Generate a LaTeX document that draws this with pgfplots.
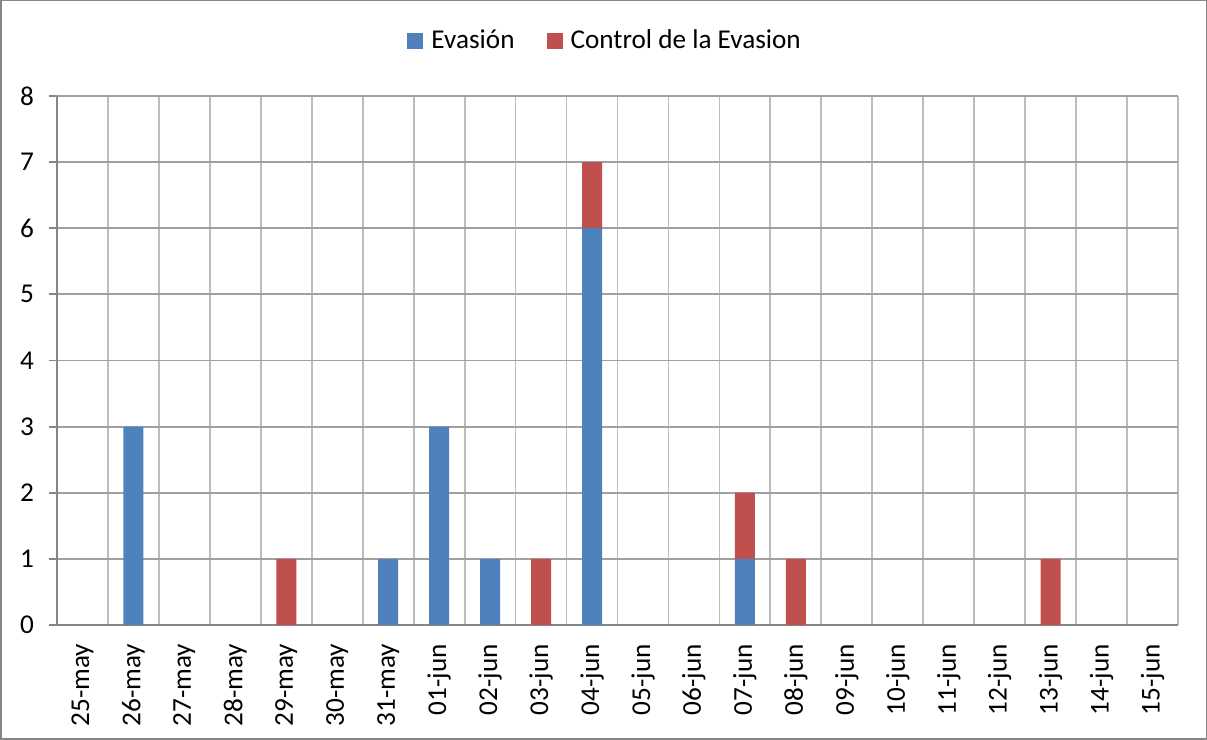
\documentclass[border=0pt]{standalone}
\usepackage{pgfplots}
\pgfplotsset{compat=1.18}
\usepackage{fontspec}
\setmainfont{Carlito}
\definecolor{cblue}{HTML}{4F81BD}
\definecolor{cred}{HTML}{C0504D}
\definecolor{hgrid}{HTML}{A0A0A0}
\definecolor{vgrid}{HTML}{BDBDBD}
\definecolor{axcol}{HTML}{868686}
\begin{document}
\begin{tikzpicture}
\begin{axis}[
  scale only axis,
  width=560.5pt, height=264.5pt,
  ybar stacked, bar width=10pt,
  ymin=0, ymax=8, ytick={0,1,...,8},
  xmin=-0.5, xmax=21.5,
  xtick={0,1,...,21},
  xticklabels={25-may,26-may,27-may,28-may,29-may,30-may,31-may,01-jun,02-jun,03-jun,04-jun,05-jun,06-jun,07-jun,08-jun,09-jun,10-jun,11-jun,12-jun,13-jun,14-jun,15-jun},
  minor xtick={-0.5,0.5,...,21.5},
  xminorgrids=true,
  ymajorgrids=true,
  minor x grid style={vgrid, line width=0.9pt},
  y grid style={hgrid, line width=0.9pt},
  axis line style={axcol, line width=0.9pt},
  axis x line*=bottom, axis y line*=left,
  every outer x axis line/.append style={-},
  every outer y axis line/.append style={-},
  x tick style={draw=none},
  minor x tick style={axcol, line width=0.9pt},
  y tick style={axcol, line width=0.9pt},
  tick align=outside,
  major tick length=4pt, minor tick length=3.5pt,
  /pgf/number format/assume math mode=true,
  tick label style={font=\fontsize{13.6}{15}\selectfont, text=black},
  xticklabel style={rotate=90, anchor=east},
  xticklabel shift=2pt,
  yticklabel shift=4pt,
  legend columns=2,
  legend style={draw=none, fill=none, at={(0.489,1.104)}, anchor=center,
    font=\fontsize{13.6}{15}\selectfont,
    nodes={inner sep=1pt},
    /tikz/every odd column/.append style={column sep=3pt},
    /tikz/every even column/.append style={column sep=15pt}},
  legend image code/.code={\fill[#1] (0pt,-4pt) rectangle (8pt,4pt);},
]
\addplot[fill=cblue, draw=none] coordinates {
(0,0) (1,3) (2,0) (3,0) (4,0) (5,0) (6,1) (7,3) (8,1) (9,0) (10,6)
(11,0) (12,0) (13,1) (14,0) (15,0) (16,0) (17,0) (18,0) (19,0) (20,0) (21,0)};
\addplot[fill=cred, draw=none] coordinates {
(0,0) (1,0) (2,0) (3,0) (4,1) (5,0) (6,0) (7,0) (8,0) (9,1) (10,1)
(11,0) (12,0) (13,1) (14,1) (15,0) (16,0) (17,0) (18,0) (19,1) (20,0) (21,0)};
\legend{Evasión, Control de la Evasion}
\coordinate (sw) at (rel axis cs:0,0);
\coordinate (ne) at (rel axis cs:1,1);
\end{axis}
\draw[axcol, line width=0.75pt] ([shift={(-28.1pt,-57.1pt)}]sw) rectangle ([shift={(14.1pt,47.6pt)}]ne);
\end{tikzpicture}
\end{document}
